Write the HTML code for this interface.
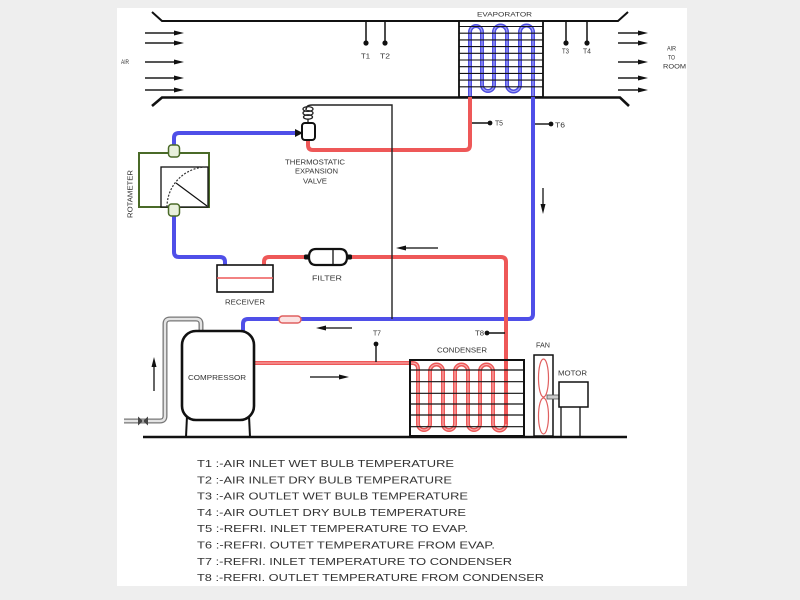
<!DOCTYPE html>
<html>
<head>
<meta charset="utf-8">
<style>
  html,body{margin:0;padding:0;background:#eeeeee;}
  svg{display:block;}
  text{font-family:"Liberation Sans",sans-serif;fill:#333;}
</style>
</head>
<body>
<svg width="800" height="600" viewBox="0 0 800 600" xmlns="http://www.w3.org/2000/svg">
  <rect width="800" height="600" fill="#eeeeee"/>
  <rect x="117" y="8" width="570" height="578" fill="#ffffff"/>

  <!-- ===== Duct ===== -->
  <path d="M152,12 L162,21 H618 L628,12" stroke="#111" stroke-width="2" fill="none"/>
  <path d="M152,106 L162,97.5 H620 L629,106" stroke="#111" stroke-width="2.6" fill="none"/>

  <!-- Air arrows left -->
  <g stroke="#555" stroke-width="2">
    <line x1="145" y1="33" x2="176" y2="33"/>
    <line x1="145" y1="43" x2="176" y2="43"/>
    <line x1="145" y1="62" x2="176" y2="62"/>
    <line x1="145" y1="78" x2="176" y2="78"/>
    <line x1="145" y1="90" x2="176" y2="90"/>
    <line x1="618" y1="33" x2="639" y2="33"/>
    <line x1="618" y1="43" x2="639" y2="43"/>
    <line x1="618" y1="62" x2="639" y2="62"/>
    <line x1="618" y1="78" x2="639" y2="78"/>
    <line x1="618" y1="90" x2="639" y2="90"/>
  </g>
  <g fill="#111">
    <polygon points="184,33 174,30.5 174,35.5"/>
    <polygon points="184,43 174,40.5 174,45.5"/>
    <polygon points="184,62 174,59.5 174,64.5"/>
    <polygon points="184,78 174,75.5 174,80.5"/>
    <polygon points="184,90 174,87.5 174,92.5"/>
    <polygon points="648,33 638,30.5 638,35.5"/>
    <polygon points="648,43 638,40.5 638,45.5"/>
    <polygon points="648,62 638,59.5 638,64.5"/>
    <polygon points="648,78 638,75.5 638,80.5"/>
    <polygon points="648,90 638,87.5 638,92.5"/>
  </g>

  <!-- Evaporator -->
  <rect x="459" y="21" width="84" height="76" fill="#fff" stroke="#111" stroke-width="1.6"/>
  <path d="M470,97 V32 A6,6 0 0 1 482,32 V85 A6,6 0 0 0 494,85 V32 A6.5,6.5 0 0 1 507,32 V85 A6.5,6.5 0 0 0 520,85 V32 A6.5,6.5 0 0 1 533,32 V97"
        fill="none" stroke="#4d4de2" stroke-width="4"/>
  <path d="M470,97 V32 A6,6 0 0 1 482,32 V85 A6,6 0 0 0 494,85 V32 A6.5,6.5 0 0 1 507,32 V85 A6.5,6.5 0 0 0 520,85 V32 A6.5,6.5 0 0 1 533,32 V97"
        fill="none" stroke="#a8a8f4" stroke-width="1.1"/>
  <g stroke="#111" stroke-width="1.1">
    <line x1="459" y1="26.5" x2="543" y2="26.5"/>
    <line x1="459" y1="33.2" x2="543" y2="33.2"/>
    <line x1="459" y1="39.9" x2="543" y2="39.9"/>
    <line x1="459" y1="46.6" x2="543" y2="46.6"/>
    <line x1="459" y1="53.3" x2="543" y2="53.3"/>
    <line x1="459" y1="60" x2="543" y2="60"/>
    <line x1="459" y1="66.7" x2="543" y2="66.7"/>
    <line x1="459" y1="73.4" x2="543" y2="73.4"/>
    <line x1="459" y1="80.1" x2="543" y2="80.1"/>
    <line x1="459" y1="86.8" x2="543" y2="86.8"/>
  </g>
  <rect x="459" y="21" width="84" height="76" fill="none" stroke="#111" stroke-width="1.6"/>

  <!-- T1..T4 probes -->
  <g stroke="#111" stroke-width="1.5">
    <line x1="366" y1="21" x2="366" y2="43"/>
    <line x1="385" y1="21" x2="385" y2="43"/>
    <line x1="566" y1="21" x2="566" y2="43"/>
    <line x1="587" y1="21" x2="587" y2="43"/>
  </g>
  <g fill="#111">
    <circle cx="366" cy="43" r="2.6"/>
    <circle cx="385" cy="43" r="2.6"/>
    <circle cx="566" cy="43" r="2.6"/>
    <circle cx="587" cy="43" r="2.6"/>
  </g>

  <!-- ===== Refrigerant pipes ===== -->
  <!-- blue: evaporator out -> compressor -->
  <path d="M533,97 V314 Q533,319 528,319 H248 Q243,319 243,324 V334" fill="none" stroke="#4f4fe8" stroke-width="4"/>
  <!-- red: valve -> evaporator -->
  <path d="M308,138 V145 Q308,150 313,150 H465 Q470,150 470,145 V97" fill="none" stroke="#ee5858" stroke-width="4"/>
  <!-- blue: rotameter -> valve -->
  <path d="M174,150 V138 Q174,133 179,133 H298" fill="none" stroke="#4f4fe8" stroke-width="4"/>
  <!-- blue: rotameter -> receiver -->
  <path d="M174,212 V252 Q174,257 179,257 H220 Q225,257 225,262 V266" fill="none" stroke="#4f4fe8" stroke-width="4"/>
  <!-- red: compressor -> condenser coil -> up -> filter -> receiver -->
  <path d="M254,363 H412 Q418,363 418,369 V424 A6,6 0 0 0 430,424 V371 A6.5,6.5 0 0 1 443,371 V424 A6,6 0 0 0 455,424 V371 A6.5,6.5 0 0 1 468,371 V424 A6,6 0 0 0 480,424 V371 A6.5,6.5 0 0 1 493,371 V424 A6.5,6.5 0 0 0 506,424 V262 Q506,257 501,257 H269 Q264,257 264,262 V266"
        fill="none" stroke="#ee5858" stroke-width="4"/>
  <path d="M254,363 H412 Q418,363 418,369 V424 A6,6 0 0 0 430,424 V371 A6.5,6.5 0 0 1 443,371 V424 A6,6 0 0 0 455,424 V371 A6.5,6.5 0 0 1 468,371 V424 A6,6 0 0 0 480,424 V371 A6.5,6.5 0 0 1 493,371 V424 A6.5,6.5 0 0 0 506,424"
        fill="none" stroke="#f8b4b4" stroke-width="1.1"/>

  <!-- sight glass -->
  <rect x="279" y="316" width="22" height="7" rx="3.5" fill="#fbe2e2" stroke="#e06060" stroke-width="1.5"/>

  <!-- capillary (thermostat bulb line) -->
  <path d="M306,110 Q306,105 312,105 H392 V319" fill="none" stroke="#222" stroke-width="1.4"/>

  <!-- Expansion valve -->
  <g fill="none" stroke="#222" stroke-width="1.3">
    <ellipse cx="308" cy="109" rx="5" ry="2.4"/>
    <ellipse cx="308" cy="113" rx="5" ry="2.4"/>
    <ellipse cx="308" cy="117" rx="4.5" ry="2.2"/>
    <line x1="308" y1="119" x2="308" y2="124"/>
  </g>
  <rect x="302" y="123" width="13" height="17" rx="3" fill="#fff" stroke="#111" stroke-width="2"/>
  <polygon points="303,133 295,129 295,137" fill="#111"/>

  <!-- Rotameter -->
  <rect x="139" y="153" width="70" height="54" fill="#fff" stroke="#4a6a28" stroke-width="2"/>
  <rect x="161" y="167" width="47" height="40" fill="#fff" stroke="#111" stroke-width="1.3"/>
  <path d="M167,207 A40,40 0 0 1 207,167" fill="none" stroke="#333" stroke-width="1.2" stroke-dasharray="2,1.5"/>
  <line x1="176" y1="183" x2="207" y2="206" stroke="#111" stroke-width="1.2"/>
  <rect x="168.5" y="145" width="11" height="12" rx="3" fill="#e8f0dc" stroke="#4a6a28" stroke-width="1.5"/>
  <rect x="168.5" y="204" width="11" height="12" rx="3" fill="#e8f0dc" stroke="#4a6a28" stroke-width="1.5"/>

  <!-- Receiver -->
  <rect x="217" y="265" width="56" height="27" fill="#fff" stroke="#111" stroke-width="1.6"/>
  <line x1="217" y1="278" x2="273" y2="278" stroke="#ee5858" stroke-width="1.6"/>

  <!-- Filter -->
  <path d="M316,249 H340 Q347,249 347,257 Q347,265 340,265 H316 Q309,265 309,257 Q309,249 316,249 Z" fill="#fff" stroke="#111" stroke-width="2.2"/>
  <line x1="333" y1="249" x2="333" y2="265" stroke="#111" stroke-width="1.3"/>
  <rect x="304" y="254.5" width="6" height="5" rx="1.5" fill="#111"/>
  <rect x="346" y="254.5" width="6" height="5" rx="1.5" fill="#111"/>

  <!-- T5..T8 probes -->
  <g stroke="#111" stroke-width="1.4">
    <line x1="472" y1="123" x2="490" y2="123"/>
    <line x1="535" y1="124" x2="551" y2="124"/>
    <line x1="376" y1="344" x2="376" y2="362"/>
    <line x1="487" y1="333" x2="505" y2="333"/>
  </g>
  <g fill="#111">
    <circle cx="490" cy="123" r="2.4"/>
    <circle cx="551" cy="124" r="2.4"/>
    <circle cx="376" cy="344" r="2.4"/>
    <circle cx="487" cy="333" r="2.4"/>
  </g>

  <!-- flow arrows -->
  <g stroke="#333" stroke-width="1.5">
    <line x1="404" y1="248" x2="438" y2="248"/>
    <line x1="324" y1="328" x2="352" y2="328"/>
    <line x1="310" y1="377" x2="341" y2="377"/>
    <line x1="543" y1="188" x2="543" y2="206"/>
    <line x1="154" y1="391" x2="154" y2="366"/>
  </g>
  <g fill="#111">
    <polygon points="396,248 406,245.5 406,250.5"/>
    <polygon points="316,328 326,325.5 326,330.5"/>
    <polygon points="349,377 339,374.5 339,379.5"/>
    <polygon points="543,214 540.5,204 545.5,204"/>
    <polygon points="154,357 151.5,367 156.5,367"/>
  </g>

  <!-- Gray suction/discharge pipe left of compressor -->
  <path d="M201,332 V324 Q201,319 196,319 H170 Q165,319 165,324 V416 Q165,421 160,421 H124" fill="none" stroke="#777" stroke-width="5"/>
  <path d="M201,332 V324 Q201,319 196,319 H170 Q165,319 165,324 V416 Q165,421 160,421 H124" fill="none" stroke="#e4e4e4" stroke-width="2.4"/>
  <polygon points="138,416.5 143,421 138,425.5" fill="#444"/>
  <polygon points="148,416.5 143,421 148,425.5" fill="#444"/>

  <!-- Compressor -->
  <line x1="187" y1="416" x2="186" y2="437" stroke="#111" stroke-width="2"/>
  <line x1="249" y1="416" x2="250" y2="437" stroke="#111" stroke-width="2"/>
  <rect x="182" y="331" width="72" height="89" rx="14" fill="#fff" stroke="#111" stroke-width="2.6"/>

  <!-- Condenser -->
  <g stroke="#111" stroke-width="1.2">
    <line x1="410" y1="370" x2="524" y2="370"/>
    <line x1="410" y1="381.7" x2="524" y2="381.7"/>
    <line x1="410" y1="393.3" x2="524" y2="393.3"/>
    <line x1="410" y1="404" x2="524" y2="404"/>
    <line x1="410" y1="415" x2="524" y2="415"/>
    <line x1="410" y1="426.7" x2="524" y2="426.7"/>
  </g>
  <rect x="410" y="360" width="114" height="76" fill="none" stroke="#111" stroke-width="2"/>

  <!-- Fan -->
  <rect x="534" y="355" width="19" height="81" fill="#fff" stroke="#111" stroke-width="1.5"/>
  <ellipse cx="543.5" cy="378" rx="5" ry="19" fill="none" stroke="#e06060" stroke-width="1.2"/>
  <ellipse cx="543.5" cy="416" rx="5" ry="18" fill="none" stroke="#e06060" stroke-width="1.2"/>
  <rect x="547" y="395" width="12" height="4" fill="#ccc" stroke="#555" stroke-width="0.8"/>

  <!-- Motor -->
  <rect x="559" y="382" width="29" height="25" fill="#fff" stroke="#111" stroke-width="1.5"/>
  <line x1="561" y1="407" x2="561" y2="436" stroke="#111" stroke-width="1.3"/>
  <line x1="580" y1="407" x2="580" y2="436" stroke="#111" stroke-width="1.3"/>

  <!-- floor -->
  <line x1="143" y1="437" x2="627" y2="437" stroke="#111" stroke-width="2.6"/>

  <!-- ===== Labels ===== -->
  <g font-size="7">
    <text x="477" y="16.5" textLength="55" lengthAdjust="spacingAndGlyphs" font-size="6.5">EVAPORATOR</text>
    <text x="121" y="64" textLength="8" lengthAdjust="spacingAndGlyphs" font-size="6">AIR</text>
    <text x="361" y="58.5" textLength="9" lengthAdjust="spacingAndGlyphs">T1</text>
    <text x="380" y="58.5" textLength="10" lengthAdjust="spacingAndGlyphs">T2</text>
    <text x="562" y="53.5" textLength="7" lengthAdjust="spacingAndGlyphs">T3</text>
    <text x="583" y="53.5" textLength="8" lengthAdjust="spacingAndGlyphs">T4</text>
    <text x="667" y="50.5" textLength="9" lengthAdjust="spacingAndGlyphs" font-size="6.5">AIR</text>
    <text x="668" y="59.5" textLength="7" lengthAdjust="spacingAndGlyphs" font-size="6.5">TO</text>
    <text x="663" y="68.5" textLength="23" lengthAdjust="spacingAndGlyphs" font-size="6.5">ROOM</text>
    <text x="285" y="164.5" textLength="60" lengthAdjust="spacingAndGlyphs">THERMOSTATIC</text>
    <text x="295" y="173.5" textLength="43" lengthAdjust="spacingAndGlyphs">EXPANSION</text>
    <text x="303" y="183.5" textLength="24" lengthAdjust="spacingAndGlyphs">VALVE</text>
    <text x="0" y="0" transform="translate(132.5,218) rotate(-90)" textLength="48" lengthAdjust="spacingAndGlyphs">ROTAMETER</text>
    <text x="225" y="304.5" textLength="40" lengthAdjust="spacingAndGlyphs">RECEIVER</text>
    <text x="312" y="280.5" textLength="30" lengthAdjust="spacingAndGlyphs">FILTER</text>
    <text x="495" y="125.5" textLength="8" lengthAdjust="spacingAndGlyphs">T5</text>
    <text x="555" y="127.5" textLength="10" lengthAdjust="spacingAndGlyphs">T6</text>
    <text x="373" y="335.5" textLength="8" lengthAdjust="spacingAndGlyphs">T7</text>
    <text x="475" y="335.5" textLength="9" lengthAdjust="spacingAndGlyphs">T8</text>
    <text x="437" y="352.5" textLength="50" lengthAdjust="spacingAndGlyphs">CONDENSER</text>
    <text x="536" y="347.5" textLength="14" lengthAdjust="spacingAndGlyphs">FAN</text>
    <text x="558" y="375.5" textLength="29" lengthAdjust="spacingAndGlyphs">MOTOR</text>
    <text x="188" y="380" textLength="58" lengthAdjust="spacingAndGlyphs" font-size="7.5">COMPRESSOR</text>
  </g>

  <!-- Legend -->
  <g font-size="10.5">
    <text x="197" y="467" textLength="257" lengthAdjust="spacingAndGlyphs">T1 :-AIR INLET WET BULB TEMPERATURE</text>
    <text x="197" y="483.3" textLength="255" lengthAdjust="spacingAndGlyphs">T2 :-AIR INLET DRY BULB TEMPERATURE</text>
    <text x="197" y="499.6" textLength="271" lengthAdjust="spacingAndGlyphs">T3 :-AIR OUTLET WET BULB TEMPERATURE</text>
    <text x="197" y="515.9" textLength="269" lengthAdjust="spacingAndGlyphs">T4 :-AIR OUTLET DRY BULB TEMPERATURE</text>
    <text x="197" y="532.2" textLength="271" lengthAdjust="spacingAndGlyphs">T5 :-REFRI. INLET TEMPERATURE TO EVAP.</text>
    <text x="197" y="548.5" textLength="298" lengthAdjust="spacingAndGlyphs">T6 :-REFRI. OUTET TEMPERATURE FROM EVAP.</text>
    <text x="197" y="564.8" textLength="315" lengthAdjust="spacingAndGlyphs">T7 :-REFRI. INLET TEMPERATURE TO CONDENSER</text>
    <text x="197" y="581.1" textLength="347" lengthAdjust="spacingAndGlyphs">T8 :-REFRI. OUTLET TEMPERATURE FROM CONDENSER</text>
  </g>
</svg>
</body>
</html>
